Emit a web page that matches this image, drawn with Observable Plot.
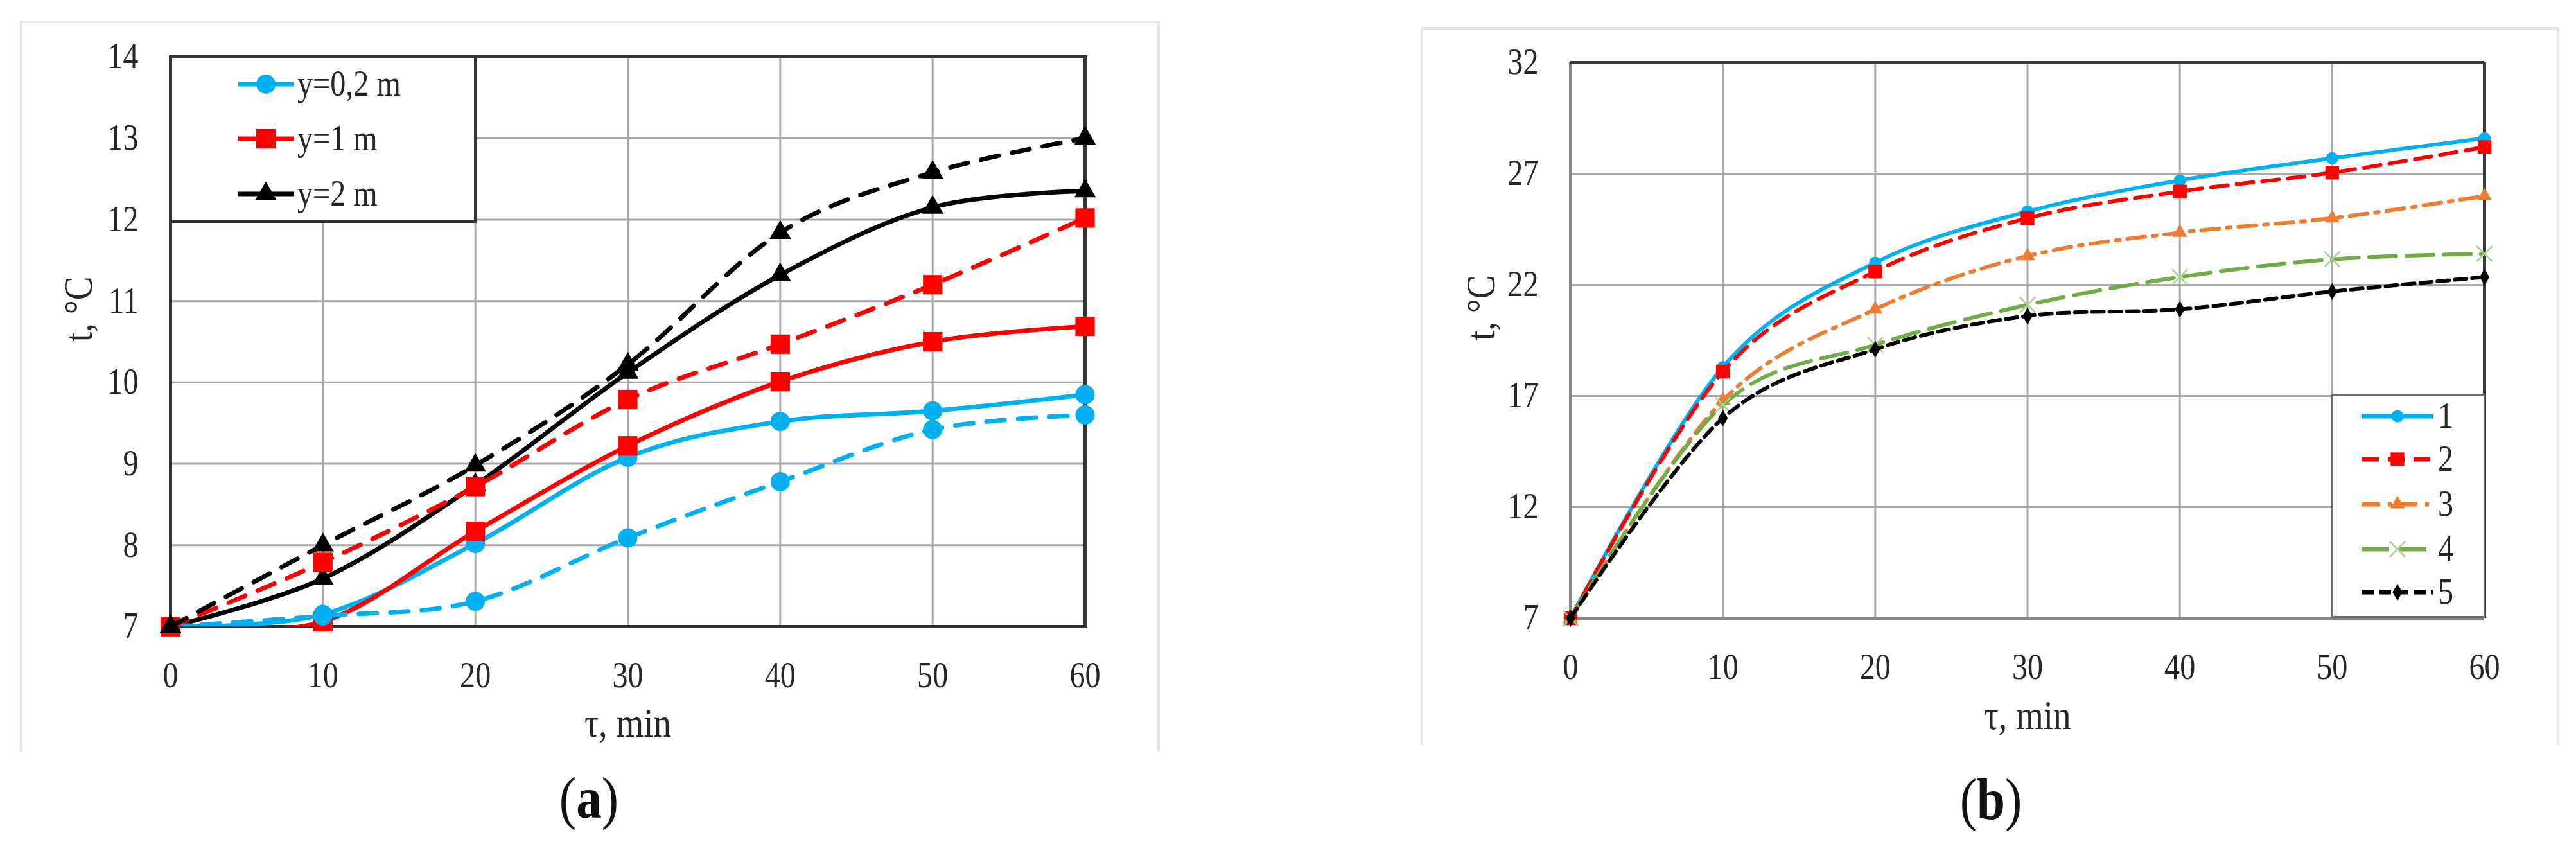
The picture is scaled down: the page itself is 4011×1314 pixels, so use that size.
<!DOCTYPE html>
<html>
<head>
<meta charset="utf-8">
<script src="https://cdn.jsdelivr.net/npm/d3@7"></script>
<script src="https://cdn.jsdelivr.net/npm/@observablehq/plot@0.6"></script>
<style>
  html, body { margin: 0; padding: 0; background: #fff; }
  body { width: 4011px; height: 1314px; position: relative; overflow: hidden;
         font-family: "Liberation Serif", "Times New Roman", serif; color: #222; }
  .outer { position: absolute; box-sizing: border-box; border: 4px solid #e8e8e8; border-bottom: none; }
  .caption { position: absolute; font-size: 92px; line-height: 1; white-space: nowrap;
             transform: translate(-50%, -50%) scaleX(0.86); color: #111; }
</style>
</head>
<body>
<script>
// ---------------- shared x values ----------------
const xTicks = [0, 10, 20, 30, 40, 50, 60];

// ---------------- panel (a) data ----------------
const aNames   = ["y=0,2 m", "y=1 m", "y=2 m"];
const aSolid02 = [7.00, 7.15, 8.02, 9.08, 9.52, 9.65, 9.85];
const aDash02  = [7.00, 7.13, 7.31, 8.09, 8.78, 9.42, 9.60];
const aSolid1  = [7.00, 7.06, 8.17, 9.22, 10.01, 10.50, 10.69];
const aDash1   = [7.00, 7.79, 8.72, 9.79, 10.47, 11.20, 12.02];
const aSolid2  = [7.00, 7.59, 8.74, 10.12, 11.32, 12.15, 12.35];
const aDash2   = [7.00, 8.00, 8.98, 10.22, 11.84, 12.58, 13.00];
const aYTicks  = [7, 8, 9, 10, 11, 12, 13, 14];

// ---------------- panel (b) data ----------------
const bNames  = ["1", "2", "3", "4", "5"];
const b1 = [7.0, 18.3, 23.0, 25.3, 26.7, 27.7, 28.6];
const b2 = [7.0, 18.1, 22.6, 25.0, 26.2, 27.05, 28.2];
const b3 = [7.0, 16.8, 20.9, 23.3, 24.35, 25.0, 26.0];
const b4 = [7.0, 16.6, 19.3, 21.1, 22.35, 23.15, 23.4];
const b5 = [7.0, 16.0, 19.1, 20.6, 20.9, 21.7, 22.35];
const bYTicks = [7, 12, 17, 22, 27, 32];

const xTitle = "τ, min";
const yTitle = "t, °C";

// ---------------- styles ----------------
const aColors  = ["#00b0f0", "#ff0000", "#000000"];
const aSymbols = ["circle", "square", "triangle"];
const aR       = [15, 17, 12.5];
const aDashPat = "28,21";

const bColors  = ["#00b0f0", "#ff0000", "#ed7d31", "#70ad47", "#000000"];
const bSymbols = ["circle", "square", "triangle", "times", "diamond"];
const bR       = [9.5, 12, 8.5, 11, 8];
const bDash    = [null, "26,14", "28,12,6,12", "42,16", "18,9"];
const bMarkerStroke = "#a9d18e";

const TXT = 0.86; // horizontal text compression seen in the reference
const intFmt = d => String(d);

function compressText(svg, k) {
  svg.querySelectorAll("text").forEach(t => {
    const tr = t.getAttribute("transform");
    if (tr) {
      t.setAttribute("transform", tr + ` scale(${k},1)`);
    } else {
      const x = parseFloat(t.getAttribute("x"));
      const y = parseFloat(t.getAttribute("y"));
      if (isFinite(x) && isFinite(y) && !/em/.test(t.getAttribute("y"))) {
        t.removeAttribute("x"); t.removeAttribute("y");
        t.setAttribute("transform", `translate(${x},${y}) scale(${k},1)`);
      }
    }
  });
}

function place(el, left, top) {
  el.style.position = "absolute";
  el.style.left = left + "px";
  el.style.top = top + "px";
  document.body.appendChild(el);
}

function outerBox(left, top, right, bottom) {
  const d = document.createElement("div");
  d.className = "outer";
  d.style.left = left + "px"; d.style.top = top + "px";
  d.style.width = (right - left) + "px"; d.style.height = (bottom - top) + "px";
  document.body.appendChild(d);
}

function caption(letter, cx, cy) {
  const d = document.createElement("div");
  d.className = "caption";
  d.style.left = cx + "px"; d.style.top = cy + "px";
  d.innerHTML = "(<b>" + letter + "</b>)";
  document.body.appendChild(d);
}

// ================= PANEL (a) =================
outerBox(31, 32, 1806, 1170);
{
  const defs = [
    {values: aSolid02, k: 0, dash: null},
    {values: aSolid1,  k: 1, dash: null},
    {values: aSolid2,  k: 2, dash: null},
    {values: aDash02,  k: 0, dash: aDashPat},
    {values: aDash1,   k: 1, dash: aDashPat},
    {values: aDash2,   k: 2, dash: aDashPat}
  ];
  const marks = [
    Plot.gridX(xTicks, {stroke: "#a8a8a8", strokeWidth: 3, strokeOpacity: 1}),
    Plot.gridY(aYTicks, {stroke: "#a8a8a8", strokeWidth: 3, strokeOpacity: 1}),
    Plot.frame({stroke: "#333", strokeWidth: 5}),
    Plot.text([xTitle], {text: d => d, frameAnchor: "bottom", dy: 151, fontSize: 64, lineAnchor: "middle"}),
    Plot.text([yTitle], {text: d => d, frameAnchor: "left", dx: -143, rotate: -90, fontSize: 64, lineAnchor: "middle"})
  ];
  defs.forEach(s => {
    const data = xTicks.map((t, i) => ({t, v: s.values[i]}));
    marks.push(Plot.line(data, {x: "t", y: "v", stroke: aColors[s.k], strokeWidth: 7,
      strokeDasharray: s.dash || undefined, curve: "cardinal", clip: true}));
    marks.push(Plot.dot(data, {x: "t", y: "v", symbol: aSymbols[s.k], r: aR[s.k], fill: aColors[s.k]}));
  });
  const svg = Plot.plot({
    width: 1770, height: 1136,
    marginLeft: 232, marginRight: 114, marginTop: 54, marginBottom: 195,
    x: {domain: [0, 60], ticks: xTicks, tickSize: 0, tickPadding: 55, tickFormat: intFmt, label: null},
    y: {domain: [7, 14], ticks: aYTicks, tickSize: 0, tickPadding: 50, tickFormat: intFmt, label: null},
    style: {fontFamily: "Liberation Serif, Times New Roman, serif", fontSize: "56px", color: "#262626", background: "transparent", overflow: "visible"},
    marks
  });
  compressText(svg, TXT);
  place(svg, 33, 34);

  // legend (a)
  const L = d3.create("svg").attr("width", 478).attr("height", 260);
  L.append("rect").attr("x", 2).attr("y", 2).attr("width", 474).attr("height", 256)
    .attr("fill", "#fff").attr("stroke", "#333").attr("stroke-width", 4);
  const ys = [44, 129, 215];
  aNames.forEach((name, i) => {
    const g = L.append("g").attr("transform", `translate(0,${ys[i]})`);
    g.append("line").attr("x1", 107).attr("x2", 194).attr("stroke", aColors[i]).attr("stroke-width", 7);
    const size = Math.PI * aR[i] * aR[i];
    const sym = {circle: d3.symbolCircle, square: d3.symbolSquare, triangle: d3.symbolTriangle}[aSymbols[i]];
    g.append("path").attr("transform", "translate(150,0)").attr("d", d3.symbol(sym, size)()).attr("fill", aColors[i]);
    g.append("text").attr("transform", `translate(199,0) scale(${TXT},1)`).attr("dy", "0.32em")
      .attr("font-size", 56).attr("fill", "#262626").attr("font-family", "Liberation Serif, serif").text(name);
  });
  place(L.node(), 264, 87);
  caption("a", 917, 1242);
}

// ================= PANEL (b) =================
outerBox(2212, 42, 3985, 1160);
{
  const series = [b1, b2, b3, b4, b5];
  const marks = [
    Plot.gridX(xTicks, {stroke: "#a8a8a8", strokeWidth: 3, strokeOpacity: 1}),
    Plot.gridY(bYTicks, {stroke: "#a8a8a8", strokeWidth: 3, strokeOpacity: 1}),
    Plot.ruleX([d3.min(xTicks)], {stroke: "#8a8a8a", strokeWidth: 5}),
    Plot.ruleY([d3.min(bYTicks)], {stroke: "#8a8a8a", strokeWidth: 5}),
    Plot.ruleY([d3.max(bYTicks)], {stroke: "#3a3a3a", strokeWidth: 5}),
    Plot.ruleX([d3.max(xTicks)], {stroke: "#3a3a3a", strokeWidth: 5}),
    Plot.text([xTitle], {text: d => d, frameAnchor: "bottom", dy: 152, fontSize: 64, lineAnchor: "middle"}),
    Plot.text([yTitle], {text: d => d, frameAnchor: "left", dx: -139, rotate: -90, fontSize: 64, lineAnchor: "middle"})
  ];
  series.forEach((vals, k) => {
    const data = xTicks.map((t, i) => ({t, v: vals[i]}));
    marks.push(Plot.line(data, {x: "t", y: "v", stroke: bColors[k], strokeWidth: 6,
      strokeDasharray: bDash[k] || undefined, curve: "cardinal", clip: true}));
    if (bSymbols[k] === "times") {
      marks.push(Plot.dot(data, {x: "t", y: "v", symbol: "times", r: bR[k], stroke: bMarkerStroke, strokeWidth: 2.5, fill: "none"}));
    } else {
      marks.push(Plot.dot(data, {x: "t", y: "v", symbol: bSymbols[k], r: bR[k], fill: bColors[k]}));
    }
  });
  const svg = Plot.plot({
    width: 1769, height: 1115,
    marginLeft: 231, marginRight: 115, marginTop: 54, marginBottom: 196,
    x: {domain: [0, 60], ticks: xTicks, tickSize: 0, tickPadding: 55, tickFormat: intFmt, label: null},
    y: {domain: [7, 32], ticks: bYTicks, tickSize: 0, tickPadding: 50, tickFormat: intFmt, label: null},
    style: {fontFamily: "Liberation Serif, Times New Roman, serif", fontSize: "56px", color: "#262626", background: "transparent", overflow: "visible"},
    marks
  });
  compressText(svg, TXT);
  place(svg, 2214, 43);

  // legend (b)
  const W = 237, H = 346;
  const L = d3.create("svg").attr("width", W + 4).attr("height", H + 4);
  L.append("rect").attr("x", 1.5).attr("y", 1.5).attr("width", W).attr("height", H)
    .attr("fill", "#fff").attr("stroke", "#6e6e6e").attr("stroke-width", 3);
  const ys = [35, 102, 172, 242, 309];
  const symMap = {circle: d3.symbolCircle, square: d3.symbolSquare, triangle: d3.symbolTriangle, times: d3.symbolTimes, diamond: d3.symbolDiamond};
  bNames.forEach((name, i) => {
    const g = L.append("g").attr("transform", `translate(0,${ys[i]})`);
    g.append("line").attr("x1", 48).attr("x2", 158).attr("stroke", bColors[i]).attr("stroke-width", 7)
      .attr("stroke-dasharray", bDash[i] || null);
    const size = Math.PI * bR[i] * bR[i];
    const p = g.append("path").attr("transform", "translate(103,0)").attr("d", d3.symbol(symMap[bSymbols[i]], size)());
    if (bSymbols[i] === "times") p.attr("fill", "none").attr("stroke", bMarkerStroke).attr("stroke-width", 2.5);
    else p.attr("fill", bColors[i]);
    g.append("text").attr("transform", `translate(166,0) scale(${TXT},1)`).attr("dy", "0.32em")
      .attr("font-size", 56).attr("fill", "#262626").attr("font-family", "Liberation Serif, serif").text(name);
  });
  place(L.node(), 3630, 613);
  caption("b", 3100, 1244);
}
</script>
</body>
</html>
